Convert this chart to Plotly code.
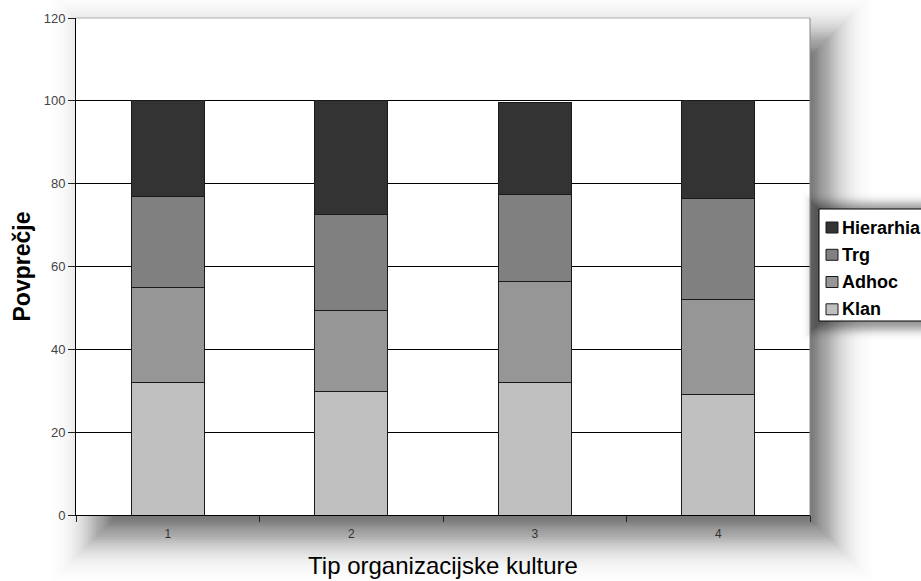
import math
import plotly.graph_objects as go

# Category labels (organisational culture type) and stacked series
categories = ["1", "2", "3", "4"]
series_names = ["Klan", "Adhoc", "Trg", "Hierarhia"]
klan = [31.9, 29.7, 31.9, 29.2]
adhoc = [23.0, 19.6, 24.4, 22.8]
trg = [21.9, 23.2, 21.1, 24.4]
hierarhia = [23.2, 27.5, 22.2, 23.6]
series_values = [klan, adhoc, trg, hierarhia]
series_colors = ["#c0c0c0", "#969696", "#808080", "#333333"]
y_ticks = [0, 20, 40, 60, 80, 100, 120]

W, H = 921, 581
ML, MR, MT, MB = 76, 111, 18, 66
PW, PH = W - ML - MR, H - MT - MB
FONT = "Liberation Sans, Arial, sans-serif"


def px(x):
    return (x - ML) / PW


def py(y):
    return (H - MB - y) / PH


fig = go.Figure()
for name, vals, col in zip(series_names, series_values, series_colors):
    fig.add_trace(go.Bar(
        x=categories, y=vals, name=name,
        marker=dict(color=col, line=dict(color="#1a1a1a", width=1)),
        showlegend=False,
    ))


def soft_shadow(x0, y0, x1, y1, sigma, dmax, kmin, kmax, step):
    """Blurred drop shadow built from nested translucent rectangles.

    Each rectangle is the core box grown by k pixels; the alphas are chosen
    so the combined darkness follows a Gaussian edge profile.
    """
    def dark(d):
        return dmax * 0.5 * math.erfc(d / (sigma * math.sqrt(2)))

    ks = list(range(kmin, kmax + 1, step))
    trans = [1 - dark(k) for k in ks] + [1.0]
    out = []
    for i, k in enumerate(ks):
        a = 1 - trans[i] / trans[i + 1]
        if a <= 0.001:
            continue
        out.append(dict(
            type="rect", xref="paper", yref="paper", layer="below",
            x0=px(x0 - k), x1=px(x1 + k), y0=py(y1 + k), y1=py(y0 - k),
            fillcolor=f"rgba(0,0,0,{a:.4f})", line=dict(width=0),
        ))
    return out


shapes = []
# drop shadow behind the plotting area
shapes += soft_shadow(98, 40, 827, 535, sigma=22, dmax=0.62, kmin=-60, kmax=70, step=2)
# plotting area itself (white, above its shadow)
shapes.append(dict(type="rect", xref="paper", yref="paper", layer="below",
                   x0=0, x1=1, y0=0, y1=1, fillcolor="white", line=dict(width=0)))
# light frame on top and right edges
shapes.append(dict(type="line", xref="paper", yref="paper", x0=0, x1=1, y0=1, y1=1,
                   line=dict(color="#b0b0b0", width=1)))
shapes.append(dict(type="line", xref="paper", yref="paper", x0=1, x1=1, y0=0, y1=1,
                   line=dict(color="#888888", width=1)))

# legend: shadow, box, swatches
shapes += soft_shadow(812, 203, 940, 330, sigma=5, dmax=0.4, kmin=-14, kmax=16, step=1)
LX0, LY0, LY1 = 819, 209, 321
shapes.append(dict(type="rect", xref="paper", yref="paper",
                   x0=px(LX0), x1=px(930), y0=py(LY1), y1=py(LY0),
                   fillcolor="white", line=dict(color="black", width=1)))
annotations = []
row_y = [227.5, 254.8, 282.0, 309.3]
legend_order = list(zip(series_names, series_colors))[::-1]
for (name, col), yc in zip(legend_order, row_y):
    shapes.append(dict(type="rect", xref="paper", yref="paper",
                       x0=px(826), x1=px(838), y0=py(yc + 5.5), y1=py(yc - 5.5),
                       fillcolor=col, line=dict(color="#1a1a1a", width=1)))
    annotations.append(dict(
        xref="paper", yref="paper", x=px(840), y=py(yc), xanchor="left", yanchor="middle",
        text=f"<b>{name}</b>", showarrow=False,
        font=dict(family=FONT, size=18, color="black"),
    ))

fig.update_layout(
    width=W, height=H,
    margin=dict(l=ML, r=MR, t=MT, b=MB, autoexpand=False),
    paper_bgcolor="white", plot_bgcolor="white",
    barmode="stack", bargap=0.6,
    shapes=shapes, annotations=annotations,
    showlegend=False,
    xaxis=dict(
        type="category", tickson="boundaries", ticks="outside", ticklen=6,
        tickcolor="#222", showline=True, linecolor="black", linewidth=1,
        showgrid=False, ticklabelstandoff=8,
        tickfont=dict(family=FONT, size=12, color="#333"),
        title=dict(text="Tip organizacijske kulture", standoff=16,
                   font=dict(family=FONT, size=24, color="black")),
    ),
    yaxis=dict(
        range=[0, 120], tickvals=y_ticks, ticks="outside", ticklen=7,
        tickcolor="#222", showline=True, linecolor="black", linewidth=1,
        showgrid=True, gridcolor="black", gridwidth=1, zeroline=False,
        tickfont=dict(family=FONT, size=13, color="#444"),
        title=dict(text="<b>Povprečje</b>", standoff=6,
                   font=dict(family=FONT, size=23, color="black")),
    ),
)

fig.write_html("out.html")
